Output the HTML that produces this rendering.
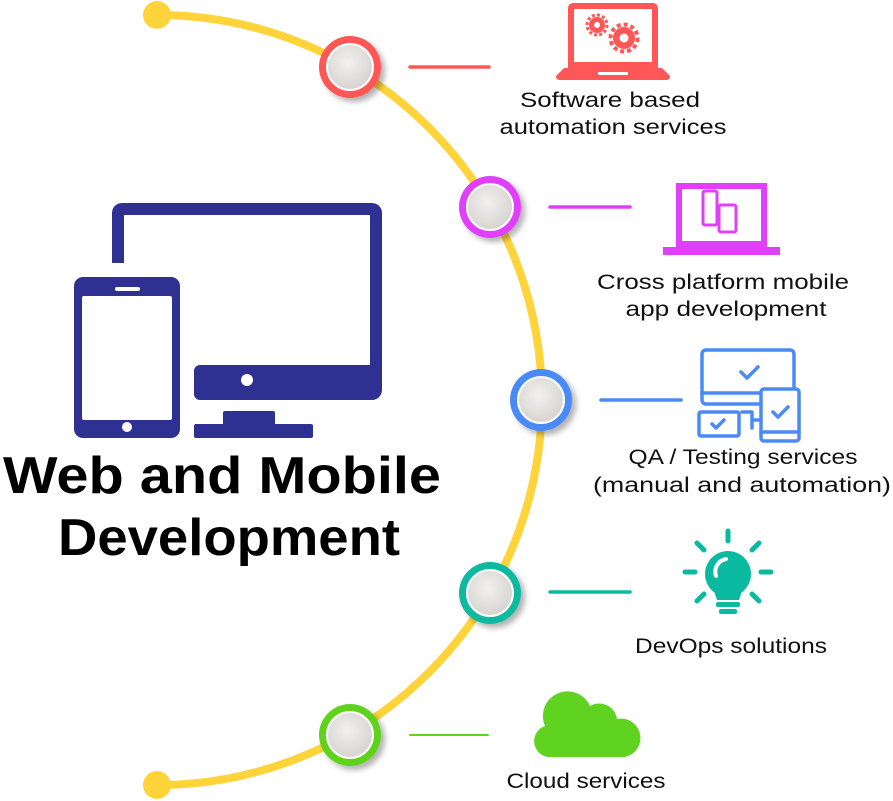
<!DOCTYPE html>
<html><head><meta charset="utf-8"><style>
body{margin:0;background:#fff}
svg{display:block}
text{font-family:"Liberation Sans",sans-serif}
</style></head><body>
<svg width="893" height="801" viewBox="0 0 893 801" xmlns="http://www.w3.org/2000/svg">
<defs>
<radialGradient id="g" cx="0.45" cy="0.4" r="0.6"><stop offset="0" stop-color="#f2f1ef"/><stop offset="1" stop-color="#d6d4d1"/></radialGradient>
<filter id="sh" x="-30%" y="-30%" width="170%" height="170%"><feDropShadow dx="4" dy="4" stdDeviation="3" flood-color="#000" flood-opacity="0.3"/></filter>
</defs>
<path d="M157,15 A385,385 0 0 1 157,785" fill="none" stroke="#FFD43B" stroke-width="8"/>
<circle cx="157" cy="15" r="14" fill="#FFD43B"/>
<circle cx="157" cy="785" r="14" fill="#FFD43B"/>
<g filter="url(#sh)">
<circle cx="350" cy="67" r="31" fill="#FF5757"/>
<circle cx="490" cy="207" r="31" fill="#E040FB"/>
<circle cx="541" cy="400" r="31" fill="#4A8AF4"/>
<circle cx="490" cy="593" r="31" fill="#0ABAA0"/>
<circle cx="350" cy="735" r="31" fill="#5FD31F"/>
</g>
<g fill="url(#g)" stroke="#fff" stroke-width="2">
<circle cx="350" cy="67" r="23"/><circle cx="490" cy="207" r="23"/><circle cx="541" cy="400" r="23"/><circle cx="490" cy="593" r="23"/><circle cx="350" cy="735" r="23"/>
</g>
<g stroke-linecap="round" stroke-width="3.5">
<line x1="410" y1="67" x2="489" y2="67" stroke="#FF5757"/>
<line x1="550" y1="207" x2="630" y2="207" stroke="#E040FB"/>
<line x1="601" y1="400" x2="681" y2="400" stroke="#4A8AF4"/>
<line x1="550" y1="592" x2="630" y2="592" stroke="#0ABAA0"/>
<line x1="410" y1="735" x2="488" y2="735" stroke="#5FD31F" stroke-width="2"/>
</g>
<g fill="#2E3192">
<path d="M112,263 V213 a10,10 0 0 1 10,-10 H372 a10,10 0 0 1 10,10 V390 a10,10 0 0 1 -10,10 H200 a6,6 0 0 1 -6,-6 V371 a6,6 0 0 1 6,-6 H370 V215 H124 V263 Z"/>
<circle cx="247" cy="380" r="6" fill="#fff"/>
<rect x="223" y="411" width="52" height="15" rx="2"/>
<rect x="194" y="424" width="119" height="14" rx="2"/>
<rect x="74" y="277" width="106" height="161" rx="9"/>
<rect x="82" y="296" width="90" height="124" rx="2" fill="#fff"/>
<rect x="115" y="287" width="25" height="4" rx="2" fill="#fff"/>
<circle cx="127" cy="427" r="5" fill="#fff"/>
</g>
<text x="222" y="493" font-size="52" font-weight="bold" text-anchor="middle" textLength="438" lengthAdjust="spacingAndGlyphs">Web and Mobile</text>
<text x="229" y="555" font-size="52" font-weight="bold" text-anchor="middle" textLength="342" lengthAdjust="spacingAndGlyphs">Development</text>
<g fill="#FF5757">
<path d="M568,8 a5,5 0 0 1 5,-5 H653 a5,5 0 0 1 5,5 V68 H568 Z M574,9 V62 H652 V9 Z" fill-rule="evenodd"/>
<path d="M564,68 H662 L670,76 a4,4 0 0 1 -3,4 H559 a4,4 0 0 1 -3,-4 Z"/>
<circle cx="597" cy="25" r="8"/><circle cx="624" cy="38" r="11"/>
<circle cx="597" cy="25" r="10" fill="none" stroke="#FF5757" stroke-width="3" stroke-dasharray="3 2.2"/>
<circle cx="624" cy="38" r="13.5" fill="none" stroke="#FF5757" stroke-width="4" stroke-dasharray="4 3"/>
</g>
<circle cx="597" cy="25" r="3" fill="#fff"/><circle cx="624" cy="38" r="4.5" fill="#fff"/>
<rect x="598" y="72" width="30" height="3" fill="#fff"/>
<g fill="#E040FB">
<path d="M676,183 H767 V247 H676 Z M682,189 V241 H761 V189 Z" fill-rule="evenodd"/>
<path d="M663,247 H780 V255 H663 Z"/>
<rect x="703" y="191" width="14" height="34" rx="2" fill="none" stroke="#E040FB" stroke-width="3"/>
<rect x="719" y="205" width="17" height="27" rx="2" fill="#fff" stroke="#E040FB" stroke-width="3"/>
</g>
<g fill="none" stroke="#4A8AF4" stroke-width="3.5" stroke-linejoin="round" stroke-linecap="round">
<rect x="702" y="350" width="92" height="54" rx="4"/>
<line x1="702" y1="393" x2="772" y2="393"/>
<rect x="761" y="389" width="38" height="52" rx="3" fill="#fff"/>
<line x1="761" y1="432" x2="799" y2="432"/>
<rect x="699" y="412" width="40" height="24" rx="2" fill="#fff"/>
<path d="M741,372 l6,6 l11,-11"/><path d="M773,412 l5,5 l10,-10"/><path d="M712,424 l4,4 l8,-8"/>
<path d="M742,412 h10 v16 M752,420 h8"/>
</g>
<g fill="#0ABAA0">
<circle cx="728" cy="574" r="23"/>
<path d="M713,588 H743 L739,600 H717 Z"/>
<rect x="716" y="602" width="24" height="5" rx="2"/>
<rect x="719" y="609" width="18" height="5" rx="2"/>
</g>
<g stroke="#0ABAA0" stroke-width="5" stroke-linecap="round">
<line x1="728" y1="531" x2="728" y2="541"/>
<line x1="697" y1="543" x2="704" y2="550"/><line x1="759" y1="543" x2="752" y2="550"/>
<line x1="685" y1="572" x2="695" y2="572"/><line x1="761" y1="572" x2="771" y2="572"/>
<line x1="697" y1="601" x2="704" y2="594"/><line x1="759" y1="601" x2="752" y2="594"/>
</g>
<path d="M716,576 a13,13 0 0 1 10,-17" fill="none" stroke="#fff" stroke-width="4" stroke-linecap="round"/>
<path d="M548,757 a16,16 0 0 1 -3,-31 a24,24 0 0 1 45,-20 a18,18 0 0 1 27,13 a19,19 0 0 1 8,38 Z" fill="#5FD31F"/>
<g font-size="21" fill="#111" text-anchor="middle">
<text x="610" y="107" textLength="180" lengthAdjust="spacingAndGlyphs">Software based</text>
<text x="613" y="134" textLength="227" lengthAdjust="spacingAndGlyphs">automation services</text>
<text x="723" y="289" textLength="252" lengthAdjust="spacingAndGlyphs">Cross platform mobile</text>
<text x="726" y="316" textLength="201" lengthAdjust="spacingAndGlyphs">app development</text>
<text x="743" y="464" textLength="229" lengthAdjust="spacingAndGlyphs">QA / Testing services</text>
<text x="742" y="492" textLength="298" lengthAdjust="spacingAndGlyphs">(manual and automation)</text>
<text x="731" y="653" textLength="192" lengthAdjust="spacingAndGlyphs">DevOps solutions</text>
<text x="586" y="788" textLength="159" lengthAdjust="spacingAndGlyphs">Cloud services</text>
</g>
</svg>
</body></html>
